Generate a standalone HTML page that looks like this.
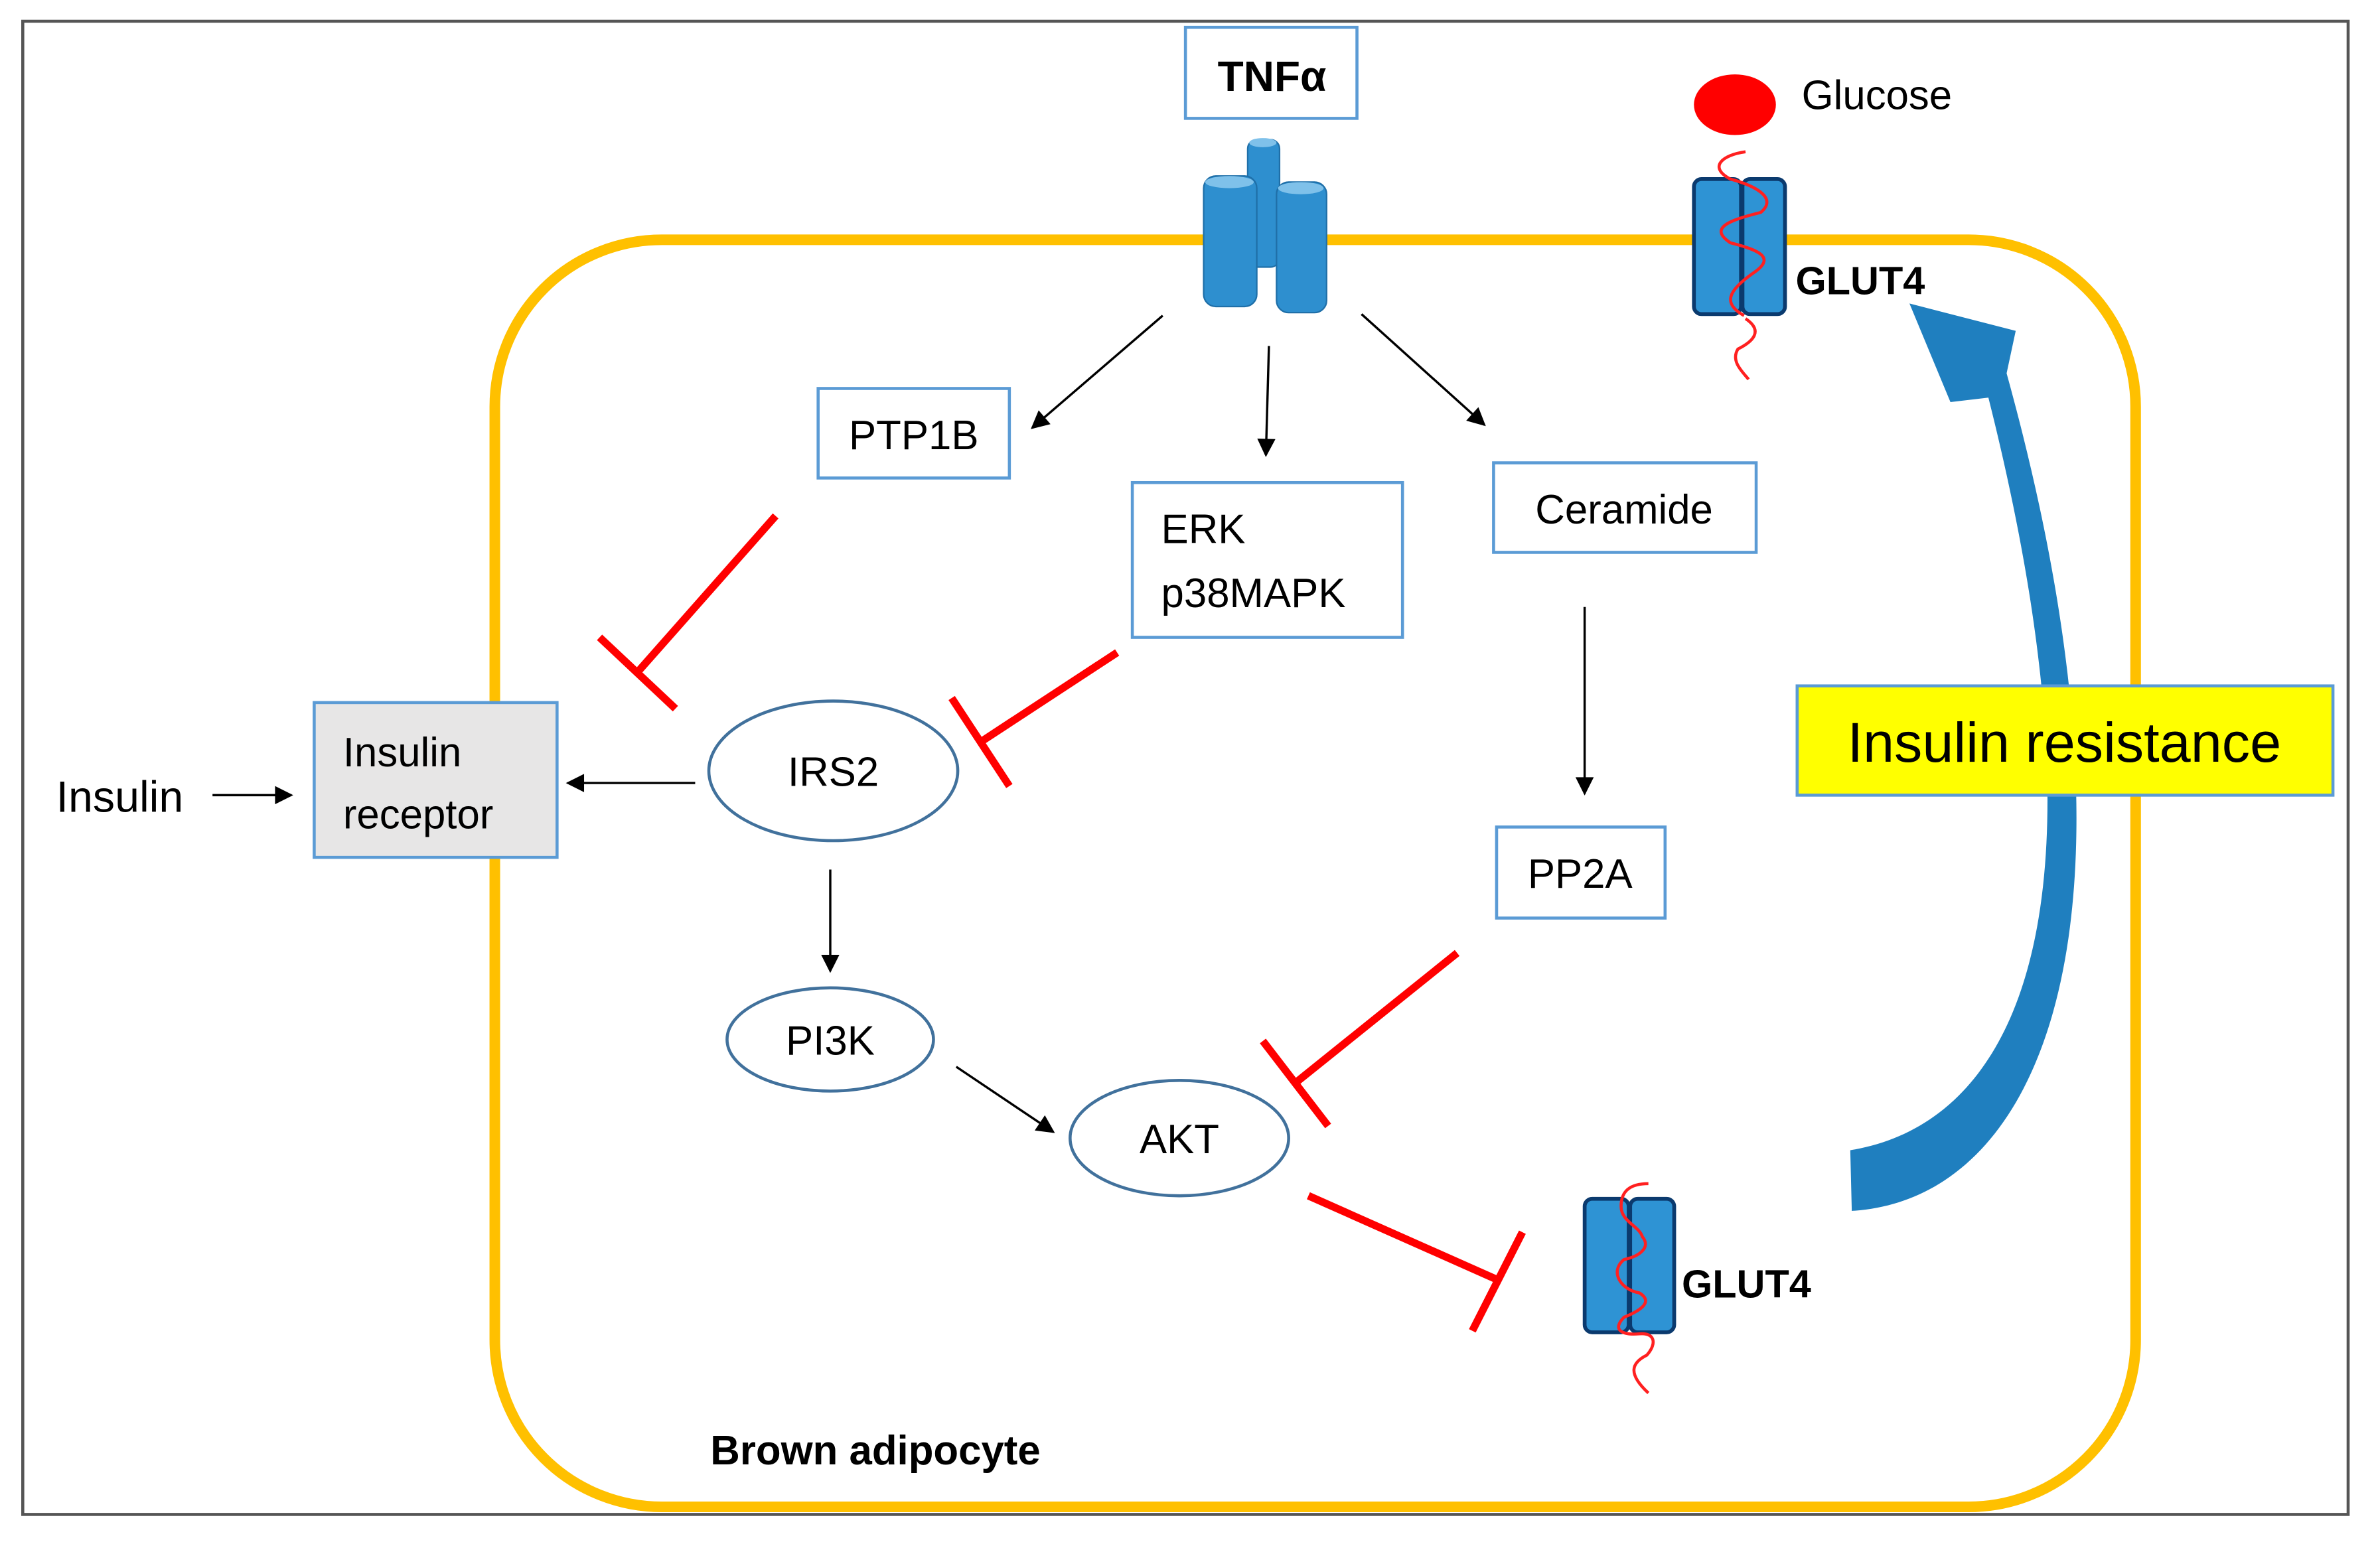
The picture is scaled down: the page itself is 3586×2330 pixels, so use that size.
<!DOCTYPE html>
<html><head><meta charset="utf-8"><style>html,body{margin:0;padding:0;background:#fff}svg{display:block}text{font-family:"Liberation Sans","DejaVu Sans",sans-serif}</style></head>
<body>
<svg width="3586" height="2330" viewBox="0 0 1568 1018.8" xmlns="http://www.w3.org/2000/svg">
<defs>
<marker id="a2" viewBox="0 0 10 10" markerWidth="14" markerHeight="12" refX="9" refY="5" orient="auto" markerUnits="userSpaceOnUse"><path d="M0,0 L10,5 L0,10 Z" fill="#000"/></marker>
</defs>
<rect x="0" y="0" width="1568" height="1019" fill="#fff"/>
<rect x="15" y="14" width="1532" height="984" fill="none" stroke="#555" stroke-width="2"/>
<rect x="326" y="158" width="1081" height="835" rx="110" fill="none" stroke="#FFC000" stroke-width="7"/>

<!-- TNF -->
<rect x="781" y="18" width="113" height="60" fill="#fff" stroke="#5B9BD5" stroke-width="2"/>
<text x="838" y="60" font-size="28" font-weight="bold" text-anchor="middle">TNFα</text>
<g fill="#2E8FCF" stroke="#1F6FA8" stroke-width="1">
<rect x="822" y="92" width="21" height="84" rx="6"/>
<rect x="793" y="116" width="35" height="86" rx="8"/>
<rect x="841" y="120" width="33" height="86" rx="8"/>
</g>
<ellipse cx="810" cy="120" rx="16" ry="4" fill="#7FC1EA"/>
<ellipse cx="857" cy="124" rx="15" ry="4" fill="#7FC1EA"/>
<ellipse cx="832" cy="94" rx="9" ry="3" fill="#7FC1EA"/>

<!-- Glucose -->
<ellipse cx="1143" cy="69" rx="27" ry="20" fill="#FF0000"/>
<text x="1187" y="72" font-size="27">Glucose</text>

<!-- GLUT4 top -->
<g fill="#2E93D4" stroke="#0B3A6E" stroke-width="2.5">
<rect x="1116" y="118" width="31" height="89" rx="5"/>
<rect x="1148" y="118" width="28" height="89" rx="5"/>
</g>
<path d="M1149,208 C1135,200 1138,192 1155,180 C1170,170 1160,165 1140,160 C1125,150 1140,145 1160,140 C1172,130 1155,122 1140,118 C1125,110 1135,102 1150,100 M1150,210 C1162,218 1155,225 1145,230 C1140,238 1148,245 1152,250" fill="none" stroke="#FF2020" stroke-width="2"/>
<text x="1183" y="194" font-size="26" font-weight="bold">GLUT4</text>

<!-- Boxes -->
<g fill="#fff" stroke="#5B9BD5" stroke-width="2">
<rect x="539" y="256" width="126" height="59"/>
<rect x="746" y="318" width="178" height="102"/>
<rect x="984" y="305" width="173" height="59"/>
<rect x="986" y="545" width="111" height="60"/>
<rect x="207" y="463" width="160" height="102" fill="#E7E6E6"/>
</g>
<g font-size="27">
<text x="602" y="296" text-anchor="middle">PTP1B</text>
<text x="765" y="358">ERK</text>
<text x="765" y="400">p38MAPK</text>
<text x="1070" y="345" text-anchor="middle">Ceramide</text>
<text x="1041" y="585" text-anchor="middle">PP2A</text>
<text x="226" y="505">Insulin</text>
<text x="226" y="546">receptor</text>
<text x="37" y="535" font-size="29">Insulin</text>
</g>
<g fill="#fff" stroke="#41719C" stroke-width="2">
<ellipse cx="549" cy="508" rx="82" ry="46"/>
<ellipse cx="547" cy="685" rx="68" ry="34"/>
<ellipse cx="777" cy="750" rx="72" ry="38"/>
</g>
<g font-size="27" text-anchor="middle">
<text x="549" y="518">IRS2</text>
<text x="547" y="695">PI3K</text>
<text x="777" y="760">AKT</text>
</g>

<!-- arrows -->
<g stroke="#000" stroke-width="1.5" fill="none" marker-end="url(#a2)">
<line x1="766" y1="208" x2="680" y2="282"/>
<line x1="836" y1="228" x2="834" y2="300"/>
<line x1="897" y1="207" x2="978" y2="280"/>
<line x1="1044" y1="400" x2="1044" y2="523"/>
<line x1="458" y1="516" x2="374" y2="516"/>
<line x1="547" y1="573" x2="547" y2="640"/>
<line x1="630" y1="703" x2="694" y2="746"/>
<line x1="140" y1="524" x2="192" y2="524"/>
</g>

<!-- inhibitions -->
<g stroke="#FF0000" stroke-width="5" fill="none">
<line x1="511" y1="340" x2="420" y2="443"/><line x1="395" y1="420" x2="445" y2="467"/>
<line x1="736" y1="430" x2="646" y2="489"/><line x1="627" y1="460" x2="665" y2="518"/>
<line x1="960" y1="628" x2="853" y2="714"/><line x1="832" y1="686" x2="875" y2="742"/>
<line x1="862" y1="788" x2="988" y2="844"/><line x1="1003" y1="812" x2="970" y2="877"/>
</g>

<!-- GLUT4 bottom -->
<g fill="#2E93D4" stroke="#0B3A6E" stroke-width="2.5">
<rect x="1044" y="790" width="29" height="88" rx="5"/>
<rect x="1074" y="790" width="29" height="88" rx="5"/>
</g>
<path d="M1086,780 C1075,780 1068,784 1068,795 C1068,805 1080,808 1082,815 C1088,822 1080,828 1070,830 C1060,838 1068,850 1080,852 C1090,858 1080,864 1070,868 C1062,876 1068,880 1080,879 C1090,878 1092,885 1085,893 C1075,898 1072,905 1086,918" fill="none" stroke="#FF2020" stroke-width="2"/>
<text x="1108" y="855" font-size="26" font-weight="bold">GLUT4</text>

<!-- big blue arrow -->
<path d="M1219,758 C1330,740 1395,600 1310,262 L1285,265 L1258,200 L1328,218 L1322,246 C1420,600 1350,790 1220,798 Z" fill="#1F7FBF"/>

<!-- Insulin resistance -->
<rect x="1184" y="452" width="353" height="72" fill="#FFFF00" stroke="#5B9BD5" stroke-width="2"/>
<text x="1360" y="502" font-size="37" text-anchor="middle">Insulin resistance</text>

<text x="468" y="965" font-size="27" font-weight="bold">Brown adipocyte</text>
</svg>
</body></html>
